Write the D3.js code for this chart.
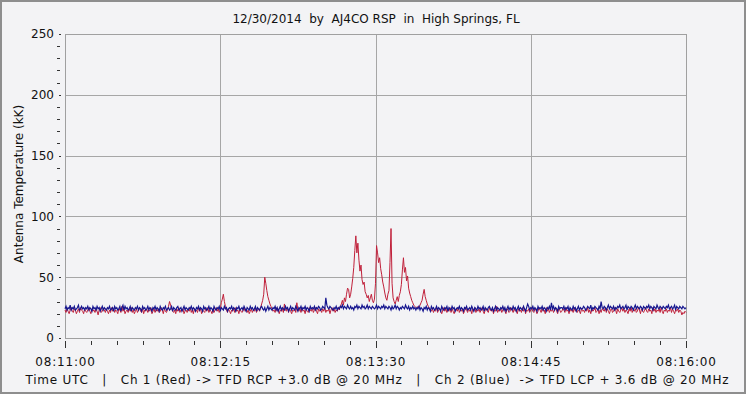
<!DOCTYPE html>
<html><head><meta charset="utf-8">
<script src="https://cdn.jsdelivr.net/npm/d3@7"></script>
<style>
body{margin:0;background:#fff}
text{font-family:"DejaVu Sans",sans-serif;fill:#111;white-space:pre}
</style>
</head><body>
<svg id="c" width="747" height="396"></svg>
<script>
const titleText = "12/30/2014  by  AJ4CO RSP  in  High Springs, FL";
const yTitleText = "Antenna Temperature (kK)";
const footerText = "Time UTC   |   Ch 1 (Red) -> TFD RCP +3.0 dB @ 20 MHz   |   Ch 2 (Blue)  -> TFD LCP + 3.6 dB @ 20 MHz";
const xTickSeconds = [0, 75, 150, 225, 300];
const xTickLabels = ["08:11:00", "08:12:15", "08:13:30", "08:14:45", "08:16:00"];
const xMinorSeconds = [12.5,25,37.5,50,62.5,87.5,100,112.5,125,137.5,162.5,175,187.5,200,212.5,237.5,250,262.5,275,287.5];
const yTickValues = [0, 50, 100, 150, 200, 250];
const yMinorValues = [10,20,30,40,60,70,80,90,110,120,130,140,160,170,180,190,210,220,230,240];
const sampleStepSec = 0.5;
// Ch 1 (Red) antenna temperature, kK, one sample every 0.5 s from 08:11:00
const redValues = [
23,21,24,22,20,23,25,22,21,24,23,20,22,24,21,25,23,22,20,24,
22,21,23,25,22,20,24,22,23,21,24,22,19,23,25,21,22,24,23,21,
24,22,20,23,21,25,22,24,21,23,22,20,24,23,21,26,22,24,20,22,
23,21,24,22,25,21,23,20,22,24,21,23,25,22,21,24,20,23,22,24,
21,23,22,25,20,22,24,21,23,22,24,21,22,25,23,20,24,22,21,23,
26,30,27,24,22,21,23,20,24,22,25,21,23,22,24,20,22,23,21,24,
22,25,21,23,20,24,22,23,21,25,22,24,20,23,22,21,24,22,25,21,
23,22,20,24,21,23,25,22,24,21,23,29,32,36,30,26,23,21,24,22,
20,23,22,24,21,25,22,23,20,24,22,21,23,25,22,24,21,23,20,22,
24,21,23,22,25,21,23,24,22,25,28,31,36,50,45,39,34,31,28,26,
24,22,23,21,25,22,24,20,23,22,24,21,28,23,22,25,21,24,22,20,
23,22,24,21,29,23,22,24,21,25,22,23,20,24,22,21,25,23,22,24,
21,23,25,22,20,24,22,23,21,24,22,25,21,23,22,24,20,23,25,22,
24,21,23,22,25,23,26,28,31,27,33,30,36,41,40,33,36,42,49,58,
72,84,70,78,64,55,60,48,44,46,38,36,33,35,30,33,36,31,29,32,
45,76,70,62,66,57,52,46,42,37,33,31,36,39,62,90,45,33,30,28,
31,34,30,35,38,44,56,66,54,58,47,51,41,37,34,31,29,27,26,25,
24,26,25,27,29,31,36,40,34,31,28,26,25,23,22,24,21,23,22,25,
21,23,24,22,20,23,25,22,24,21,23,22,25,21,24,22,20,23,24,22,
25,21,23,22,24,20,22,25,23,21,24,22,23,20,24,22,25,21,23,22,
24,21,23,25,22,20,23,24,22,21,25,23,22,24,20,23,22,26,21,23,
22,24,21,23,25,22,20,24,23,21,22,25,23,21,24,22,23,20,24,22,
23,21,25,22,24,20,23,22,24,21,23,25,22,21,24,23,20,22,25,23,
21,24,22,23,20,25,22,24,21,23,22,24,21,23,25,22,20,24,23,21,
22,24,23,21,25,22,23,20,24,22,23,21,25,22,24,21,23,22,20,24,
22,23,21,24,22,25,21,23,20,24,22,23,25,21,22,24,20,23,21,24,
23,22,25,21,24,22,20,23,24,21,22,25,23,20,24,22,21,23,25,22,
24,21,23,22,20,24,22,25,21,23,22,24,21,22,25,23,20,24,22,21,
23,25,22,21,24,22,23,20,25,22,24,21,23,22,24,21,25,22,20,23,
22,24,21,23,22,25,21,24,22,20,23,22,24,21,23,22,19,21,20,22,
21];
// Ch 2 (Blue)
const blueValues = [
24,26,23,25,24,27,23,25,24,26,23,24,25,27,23,24,26,24,25,23,
25,24,26,23,25,24,22,26,24,25,23,26,24,25,22,24,26,23,25,24,
23,25,24,26,23,24,25,22,26,24,25,23,24,26,22,25,27,23,26,24,
25,23,24,26,22,25,24,23,25,24,26,23,25,24,22,26,24,25,23,24,
26,23,25,24,22,25,24,26,23,25,24,22,26,24,23,25,24,26,23,24,
25,23,24,26,22,25,24,23,25,26,23,24,25,22,24,26,23,25,24,23,
25,24,26,23,25,24,22,25,24,26,23,25,24,22,26,24,25,23,24,26,
23,25,24,22,26,24,23,25,24,26,22,25,24,23,26,24,25,22,24,25,
24,26,23,25,24,22,25,24,26,23,24,25,23,26,24,22,25,24,23,26,
24,25,23,24,26,22,25,24,23,25,26,24,23,25,22,24,26,23,25,24,
23,25,24,26,23,25,22,24,26,23,25,24,23,26,24,25,22,24,26,23,
25,24,23,26,24,22,25,24,26,23,25,24,26,23,25,24,22,26,24,25,
24,26,23,25,24,26,25,23,24,26,25,24,33,27,25,24,26,25,24,23,
25,24,26,23,25,24,26,25,27,24,26,25,24,27,25,24,26,24,25,23,
26,25,27,24,26,25,24,27,25,26,24,25,27,24,26,25,24,26,25,24,
25,27,24,26,25,24,26,25,27,24,26,25,24,26,25,23,26,24,25,27,
24,26,25,23,25,24,26,25,24,27,25,24,26,23,25,24,26,24,25,23,
25,24,26,23,25,24,22,25,24,26,23,25,24,22,26,24,25,23,24,26,
23,25,24,22,26,24,23,25,24,26,22,25,24,23,26,24,25,22,24,25,
24,26,23,25,24,22,25,24,26,23,24,25,23,26,24,22,25,24,23,26,
24,25,23,24,26,22,25,24,23,25,26,24,23,25,22,24,26,23,25,24,
23,25,24,26,23,25,22,24,26,23,25,24,23,26,24,25,22,24,26,23,
25,24,23,26,24,22,25,28,26,23,25,24,26,23,25,24,22,26,24,25,
24,26,23,25,24,22,25,24,26,23,29,24,26,23,25,24,22,26,24,25,
25,24,26,23,25,24,26,22,25,24,23,26,24,25,22,24,26,23,25,24,
24,26,25,23,24,26,25,24,27,23,25,24,26,25,24,23,26,24,30,25,
24,26,25,23,25,27,24,26,25,24,26,23,25,24,26,25,27,24,25,26,
24,25,27,23,26,25,24,26,25,23,25,27,24,26,25,24,26,25,23,26,
25,24,26,25,27,24,26,25,23,26,25,24,27,25,24,26,25,24,26,25,
24,26,25,27,24,25,26,24,25,27,23,26,25,24,26,25,24,26,25,24,
25];

const svg = d3.select("#c");
const L = 65, R = 686, T = 34, B = 338;
const x = d3.scaleLinear().domain([0, 300]).range([L, R]);
const y = d3.scaleLinear().domain([0, 250]).range([B, T]);

// background / outer frame
svg.append("rect").attr("x", 1).attr("y", 1).attr("width", 744).attr("height", 392)
  .attr("fill", "#f3f3f5").attr("stroke", "#8e8e8e").attr("stroke-width", 2);

// grid
const grid = svg.append("g").attr("stroke", "#a6a6a6").attr("stroke-width", 1).attr("shape-rendering", "crispEdges");
grid.selectAll(".gx").data(xTickSeconds.slice(1, -1)).join("line")
  .attr("x1", d => Math.round(x(d)) + 0.5).attr("x2", d => Math.round(x(d)) + 0.5)
  .attr("y1", T).attr("y2", B);
grid.selectAll(".gy").data(yTickValues.slice(1, -1)).join("line")
  .attr("y1", d => Math.round(y(d)) + 0.5).attr("y2", d => Math.round(y(d)) + 0.5)
  .attr("x1", L).attr("x2", R);
svg.append("rect").attr("x", L + 0.5).attr("y", T + 0.5).attr("width", R - L).attr("height", B - T)
  .attr("fill", "none").attr("stroke", "#a0a0a0").attr("shape-rendering", "crispEdges");

// series
const line = d3.line().x((d, i) => x(i * sampleStepSec)).y(d => y(d));
svg.append("path").datum(redValues).attr("d", line)
  .attr("fill", "none").attr("stroke", "#c0203a").attr("stroke-width", 1);
svg.append("path").datum(blueValues).attr("d", line)
  .attr("fill", "none").attr("stroke", "#16168f").attr("stroke-width", 1.2);

// axes
const yAx = svg.append("g").attr("transform", `translate(${L - 4},0)`)
  .call(d3.axisLeft(y).tickValues(yTickValues).tickSize(2).tickPadding(5).tickFormat(d3.format("d")));
const yMin = svg.append("g").attr("transform", `translate(${L - 5},0)`)
  .call(d3.axisLeft(y).tickValues(yMinorValues).tickSize(3).tickFormat(""));
const xAx = svg.append("g").attr("transform", `translate(0,${B + 3})`)
  .call(d3.axisBottom(x).tickValues(xTickSeconds).tickSize(7).tickPadding(9)
    .tickFormat((d, i) => xTickLabels[i]));
const xMin = svg.append("g").attr("transform", `translate(0,${B + 3})`)
  .call(d3.axisBottom(x).tickValues(xMinorSeconds).tickSize(4).tickFormat(""));
[yAx, yMin, xAx, xMin].forEach(g => {
  g.select(".domain").remove();
  g.selectAll("line").attr("stroke", "#333").attr("shape-rendering", "crispEdges");
  g.selectAll("text").attr("font-size", 12).attr("fill", "#111").attr("font-family", "DejaVu Sans, sans-serif");
});
xAx.selectAll("text").attr("letter-spacing", "0.8px");

// texts
svg.append("text").attr("x", 376).attr("y", 23).attr("text-anchor", "middle")
  .attr("font-size", 12).text(titleText);
svg.append("text").attr("transform", "translate(23,184) rotate(-90)").attr("text-anchor", "middle")
  .attr("font-size", 12).text(yTitleText);
svg.append("text").attr("x", 377).attr("y", 384).attr("text-anchor", "middle")
  .attr("font-size", 12).attr("textLength", 703).attr("lengthAdjust", "spacing").text(footerText);
</script>
</body></html>
